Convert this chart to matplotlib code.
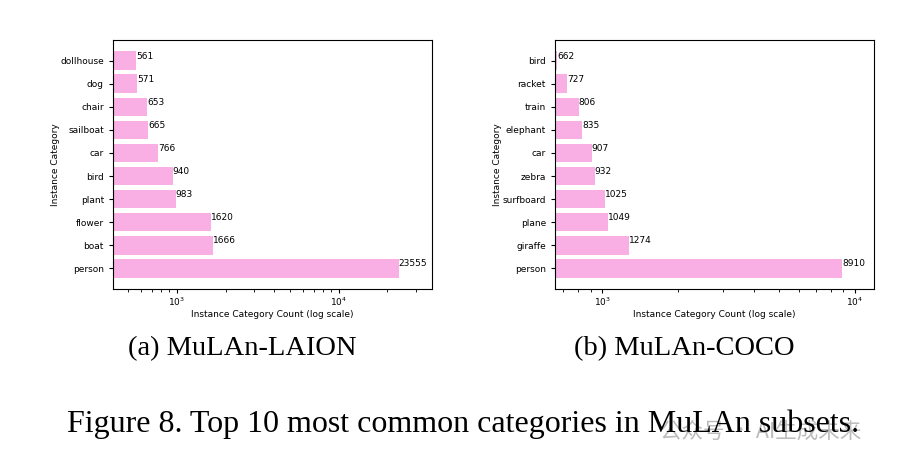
import numpy as np
import matplotlib.pyplot as plt

# =====================================================
# DATA
# =====================================================

laion_categories = ["person", "boat", "flower", "plant", "bird",
                    "car", "sailboat", "chair", "dog", "dollhouse"]
laion_counts = [23555, 1666, 1620, 983, 940, 766, 665, 653, 571, 561]

coco_categories = ["person", "giraffe", "plane", "surfboard", "zebra",
                   "car", "elephant", "train", "racket", "bird"]
coco_counts = [8910, 1274, 1049, 1025, 932, 907, 835, 806, 727, 662]

captions = ["(a) MuLAn-LAION", "(b) MuLAn-COCO"]
figure_caption = "Figure 8. Top 10 most common categories in MuLAn subsets."
watermark = "公众号 · AI生成未来"

bar_color = "#f9aee4"

plt.rcParams["font.family"] = ["DejaVu Sans"]

fig = plt.figure(figsize=(9.10, 4.62), dpi=100)

W, H = 910.0, 462.0


def add_axes_px(x0, y0, x1, y1):
    return fig.add_axes([x0 / W, 1 - y1 / H, (x1 - x0) / W, (y1 - y0) / H])


# =====================================================
# PANELS
# =====================================================

panels = [
    (laion_categories, laion_counts, (113, 40, 432, 289), (403, 37780)),
    (coco_categories, coco_counts, (555, 40, 874, 289), (650, 11890)),
]

for cats, counts, box, xlim in panels:

    ax = add_axes_px(*box)

    ax.barh(cats, counts, color=bar_color, height=0.8)

    ax.set_xscale("log")
    ax.set_xlim(*xlim)

    for i, v in enumerate(counts):
        ax.text(v, i, str(v), ha="left", va="bottom", fontsize=6.5)

    ax.set_xlabel("Instance Category Count (log scale)", fontsize=6.5,
                  labelpad=2)
    ax.set_ylabel("Instance Category", fontsize=6.5, labelpad=0.5)

    ax.tick_params(axis="both", labelsize=6.5, length=3, width=0.8)
    ax.tick_params(axis="x", which="both", pad=1.5)
    ax.tick_params(axis="x", which="minor", length=2, width=0.6)

    for spine in ax.spines.values():
        spine.set_linewidth(0.8)

# =====================================================
# CAPTIONS
# =====================================================

# watermark sits under the caption, as in the reference
fig.text(660 / W, 1 - 432 / H, watermark, ha="left", va="center",
         fontsize=15.5, color="#a0a0a0", alpha=0.7, zorder=1,
         family=["Noto Sans CJK SC", "DejaVu Sans"])

fig.text(242 / W, 1 - 349 / H, captions[0], ha="center", va="center",
         fontsize=20.5, family="Liberation Serif")
fig.text(684 / W, 1 - 349 / H, captions[1], ha="center", va="center",
         fontsize=20.5, family="Liberation Serif")

fig.text(463 / W, 1 - 424 / H, figure_caption, ha="center", va="center",
         fontsize=23, family="Liberation Serif", zorder=2)

fig.savefig("out.png", dpi=100)
